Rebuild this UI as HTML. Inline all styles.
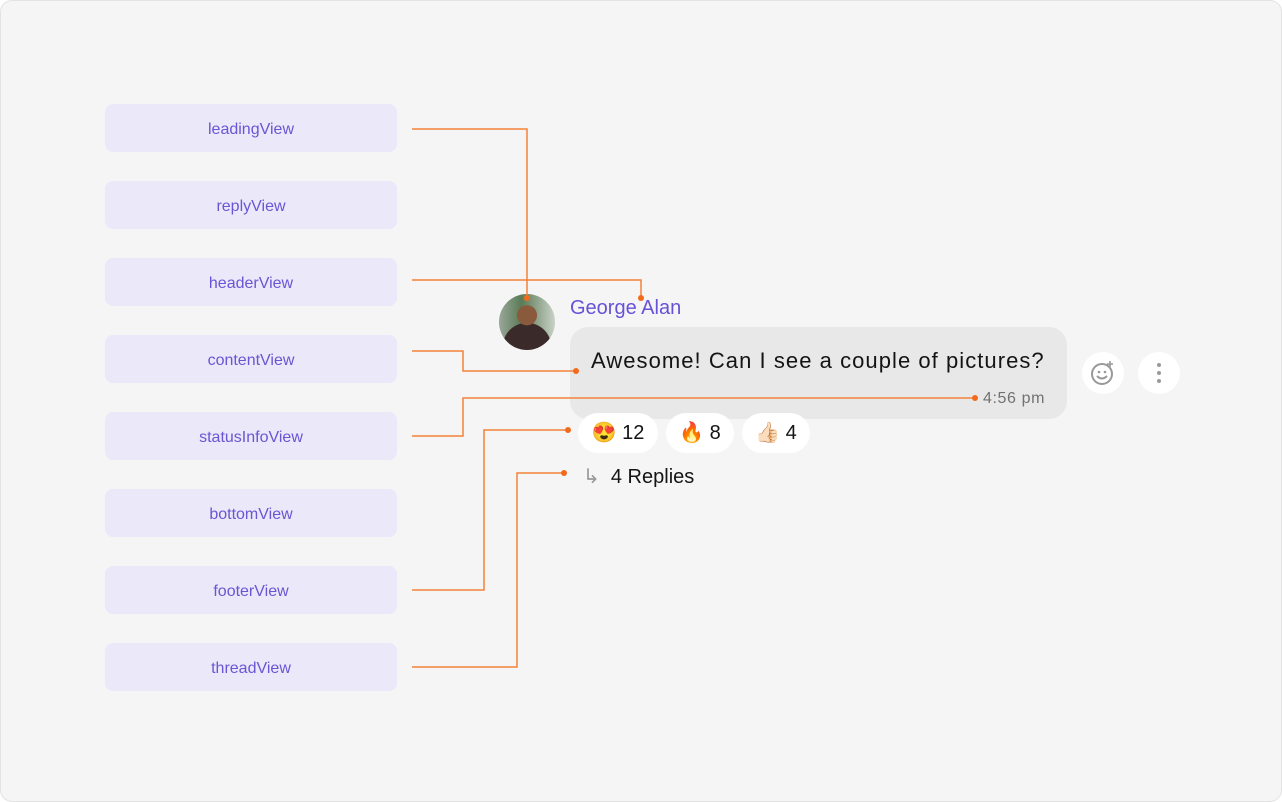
<!DOCTYPE html>
<html><head><style>
body{margin:0;width:1282px;height:802px;background:#fff;font-family:"Liberation Sans",sans-serif;overflow:hidden}
.frame{position:absolute;left:0;top:0;width:1280px;height:800px;border:1px solid #e3e3e3;border-radius:12px;background:#f5f5f5}
.box{position:absolute;left:105px;width:292px;height:48px;border-radius:8px;background:#ebe8f9;color:#6a55d4;font-size:16px;line-height:52px;text-align:center;font-weight:500}
.pill{position:absolute;top:413px;height:40px;background:#fff;border-radius:20px;font-size:20px;line-height:40px;color:#141414;text-align:center}
.ic{position:absolute;top:352px;width:42px;height:42px;border-radius:50%;background:#fff}
</style></head><body>
<div class="frame"></div>
<div class="box" style="top:104px">leadingView</div>
<div class="box" style="top:181px">replyView</div>
<div class="box" style="top:258px">headerView</div>
<div class="box" style="top:335px">contentView</div>
<div class="box" style="top:412px">statusInfoView</div>
<div class="box" style="top:489px">bottomView</div>
<div class="box" style="top:566px">footerView</div>
<div class="box" style="top:643px">threadView</div>

<div style="position:absolute;left:499px;top:294px;width:56px;height:56px;border-radius:50%;background:radial-gradient(circle at 50% 38%,#8a5a3c 0 22%,transparent 23%),radial-gradient(circle at 50% 95%,#3a2a2a 0 40%,transparent 41%),linear-gradient(90deg,#9aa79a,#5b7a55 40%,#c9d2c8)"></div>
<div style="position:absolute;left:570px;top:297px;font-size:20px;color:#6851d6">George Alan</div>
<div style="position:absolute;left:570px;top:327px;width:497px;height:92px;border-radius:18px;background:#e8e8e8"></div>
<div style="position:absolute;left:591px;top:348px;font-size:22px;color:#141414;letter-spacing:1.05px">Awesome! Can I see a couple of pictures?</div>
<div style="position:absolute;left:983px;top:390px;font-size:16px;color:#727272;letter-spacing:0.6px">4:56 pm</div>
<div class="pill" style="left:578px;width:80px">😍 12</div>
<div class="pill" style="left:666px;width:68px">🔥 8</div>
<div class="pill" style="left:742px;width:68px">👍🏻 4</div>
<div style="position:absolute;left:583px;top:464px;font-size:20px;color:#141414"><span style="color:#999">↳</span>&nbsp; 4 Replies</div>
<div class="ic" style="left:1082px"><svg width="42" height="42"><circle cx="20" cy="22" r="10" fill="none" stroke="#999" stroke-width="2"/><circle cx="17" cy="20" r="1.3" fill="#999"/><circle cx="23" cy="20" r="1.3" fill="#999"/><path d="M15 24q5 5 10 0" fill="none" stroke="#999" stroke-width="2"/><path d="M28 9v6M25 12h6" stroke="#999" stroke-width="1.6"/></svg></div>
<div class="ic" style="left:1138px"><svg width="42" height="42"><circle cx="21" cy="13" r="2" fill="#999"/><circle cx="21" cy="21" r="2" fill="#999"/><circle cx="21" cy="29" r="2" fill="#999"/></svg></div>

<svg style="position:absolute;left:0;top:0" width="1282" height="802" fill="none" stroke="#f4823a" stroke-width="1.5">
<path d="M412 129H527V298"/><path d="M412 280H641V298"/>
<path d="M412 351H463V371H576"/><path d="M412 436H463V398H975"/>
<path d="M412 590H484V430H568"/><path d="M412 667H517V473H564"/>
<g fill="#f26b1d" stroke="none"><circle cx="527" cy="298" r="3"/><circle cx="641" cy="298" r="3"/><circle cx="576" cy="371" r="3"/><circle cx="975" cy="398" r="3"/><circle cx="568" cy="430" r="3"/><circle cx="564" cy="473" r="3"/></g>
</svg>
</body></html>
